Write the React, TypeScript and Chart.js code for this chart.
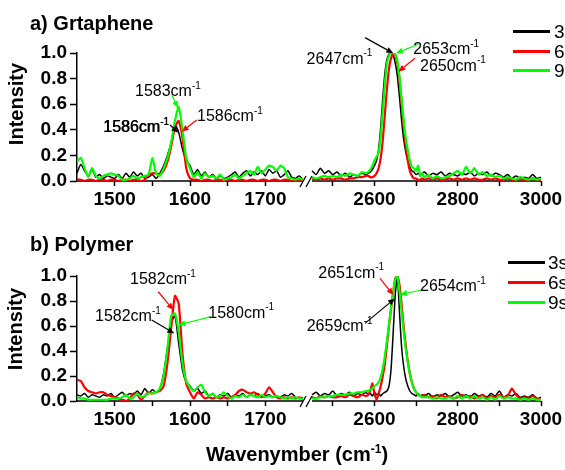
import React, { useEffect, useRef } from "react";
import { Chart, LinearScale, registerables } from "chart.js";

Chart.register(...registerables);

const FONT = '"Liberation Sans", Arial, sans-serif';
const BLACK = "#000000";
const RED = "#ff0000";
const GREEN = "#00ff00";

// ---- x grid (cm^-1) ----
const LEFT_X = [
  1450, 1455, 1460, 1465, 1470, 1475, 1480, 1485, 1490, 1495,
  1500, 1505, 1510, 1515, 1520, 1525, 1530, 1535, 1540, 1545,
  1550, 1555, 1560, 1565, 1570, 1575, 1580, 1585, 1590, 1595,
  1600, 1605, 1610, 1615, 1620, 1625, 1630, 1635, 1640, 1645,
  1650, 1655, 1660, 1665, 1670, 1675, 1680, 1685, 1690, 1695,
  1700, 1705, 1710, 1715, 1720, 1725, 1730, 1735, 1740, 1745,
  1750,
];
const RIGHT_X = [
  2450, 2460, 2470, 2480, 2490, 2500, 2510, 2520, 2530, 2540, 2550, 2560, 2570, 2580,
  2585, 2590, 2595, 2600, 2605, 2610, 2615, 2620, 2625, 2630, 2635, 2640, 2645, 2650,
  2655, 2660, 2665, 2670, 2675, 2680, 2685, 2690, 2695, 2700, 2705, 2710, 2715,
  2720, 2730, 2740, 2750, 2760, 2770, 2780, 2790, 2800, 2810, 2820, 2830, 2840, 2850,
  2860, 2870, 2880, 2890, 2900, 2910, 2920, 2930, 2940, 2950, 2960, 2970, 2980, 2990, 3000,
];

// ---- a) Graphene ----
const A_BLACK_L = [
  0.06, 0.13, 0.08, 0.04, 0.09, 0.03, 0.05, 0.02, 0.04, 0.03,
  0.02, 0.05, 0.02, 0.06, 0.03, 0.07, 0.04, 0.06, 0.02, 0.03,
  0.05, 0.02, 0.06, 0.12, 0.20, 0.30, 0.44, 0.38, 0.25, 0.16,
  0.12, 0.05, 0.09, 0.04, 0.07, 0.03, 0.05, 0.02, 0.04, 0.02,
  0.03, 0.05, 0.07, 0.03, 0.06, 0.08, 0.04, 0.07, 0.05, 0.08,
  0.04, 0.09, 0.06, 0.08, 0.03, 0.05, 0.08, 0.03, 0.02, 0.04,
  0.01,
];
const A_RED_L = [
  0.01, 0.01, 0.0, 0.01, 0.01, 0.0, 0.01, 0.01, 0.0, 0.01,
  0.01, 0.0, 0.01, 0.01, 0.0, 0.01, 0.01, 0.0, 0.01, 0.05,
  0.06, 0.06, 0.05, 0.08, 0.15, 0.27, 0.42, 0.47, 0.34, 0.10,
  0.02, 0.01, 0.01, 0.0, 0.01, 0.01, 0.0, 0.01, 0.01, 0.0,
  0.01, 0.01, 0.0, 0.01, 0.01, 0.0, 0.01, 0.01, 0.0, 0.01,
  0.01, 0.0, 0.01, 0.01, 0.0, 0.01, 0.01, 0.0, 0.01, 0.01,
  0.0,
];
const A_GREEN_L = [
  0.15, 0.18, 0.10, 0.03, 0.10, 0.04, 0.02, 0.04, 0.05, 0.06,
  0.05, 0.04, 0.01, 0.01, 0.02, 0.04, 0.02, 0.03, 0.04, 0.05,
  0.18, 0.06, 0.04, 0.10, 0.18, 0.30, 0.47, 0.58, 0.40, 0.18,
  0.10, 0.03, 0.07, 0.02, 0.06, 0.03, 0.04, 0.02, 0.05, 0.01,
  0.02, 0.03, 0.05, 0.02, 0.04, 0.06, 0.08, 0.05, 0.11, 0.06,
  0.09, 0.12, 0.11, 0.08, 0.12, 0.10, 0.03, 0.02, 0.01, 0.02,
  0.01,
];
const A_BLACK_R = [
  0.08, 0.05, 0.10, 0.06, 0.08, 0.05, 0.07, 0.04, 0.06, 0.03, 0.05, 0.04, 0.06, 0.05,
  0.06, 0.07, 0.09, 0.12, 0.16, 0.25, 0.42, 0.65, 0.84, 0.95, 0.99, 1.0, 0.98, 0.92,
  0.82, 0.66, 0.48, 0.33, 0.23, 0.16, 0.11, 0.08, 0.07, 0.05, 0.06, 0.04, 0.06,
  0.07, 0.04, 0.06, 0.05, 0.07, 0.04, 0.06, 0.05, 0.04, 0.06, 0.05, 0.07, 0.04, 0.06,
  0.05, 0.07, 0.04, 0.06, 0.05, 0.03, 0.05, 0.02, 0.04, 0.02, 0.03, 0.02, 0.05, 0.02, 0.03,
];
const A_RED_R = [
  0.02, 0.01, 0.02, 0.01, 0.02, 0.01, 0.02, 0.02, 0.01, 0.02, 0.02, 0.03, 0.03, 0.04,
  0.04, 0.03, 0.03, 0.04, 0.06, 0.10, 0.18, 0.32, 0.52, 0.72, 0.88, 0.96, 0.99, 0.98,
  0.92, 0.80, 0.62, 0.44, 0.28, 0.16, 0.08, 0.04, 0.02, 0.02, 0.01, 0.01, 0.02,
  0.01, 0.02, 0.01, 0.02, 0.01, 0.01, 0.02, 0.01, 0.02, 0.01, 0.02, 0.01, 0.02, 0.01,
  0.01, 0.02, 0.01, 0.02, 0.01, 0.01, 0.02, 0.01, 0.01, 0.02, 0.01, 0.01, 0.02, 0.01, 0.01,
];
const A_GREEN_R = [
  0.03, 0.02, 0.03, 0.04, 0.03, 0.04, 0.03, 0.05, 0.04, 0.06, 0.05, 0.04, 0.07, 0.06,
  0.07, 0.09, 0.12, 0.16, 0.19, 0.22, 0.35, 0.55, 0.76, 0.92, 0.98, 1.0, 1.0, 0.99,
  0.94, 0.82, 0.65, 0.48, 0.34, 0.24, 0.16, 0.11, 0.10, 0.08, 0.12, 0.04, 0.06,
  0.03, 0.05, 0.02, 0.04, 0.02, 0.03, 0.04, 0.06, 0.08, 0.05, 0.11, 0.06, 0.10, 0.05,
  0.07, 0.04, 0.05, 0.03, 0.04, 0.02, 0.03, 0.02, 0.01, 0.03, 0.02, 0.01, 0.02, 0.01, 0.02,
];

// ---- b) Polymer ----
const B_BLACK_L = [
  0.05, 0.04, 0.06, 0.03, 0.05, 0.04, 0.03, 0.05, 0.04, 0.06,
  0.03, 0.05, 0.07, 0.04, 0.06, 0.05, 0.08, 0.05, 0.10, 0.06,
  0.09, 0.07, 0.10, 0.22, 0.42, 0.62, 0.68, 0.46, 0.25, 0.15,
  0.12, 0.08, 0.10, 0.06, 0.08, 0.04, 0.06, 0.03, 0.05, 0.04,
  0.06, 0.03, 0.05, 0.04, 0.06, 0.03, 0.05, 0.04, 0.06, 0.03,
  0.04, 0.05, 0.03, 0.04, 0.03, 0.05, 0.04, 0.06, 0.03, 0.02,
  0.03,
];
const B_RED_L = [
  0.17, 0.16, 0.11, 0.08, 0.07, 0.06, 0.07, 0.07, 0.05, 0.04,
  0.03, 0.02, 0.01, 0.0, 0.02, 0.06, 0.05, 0.01, 0.04, 0.07,
  0.06, 0.07, 0.08, 0.12, 0.30, 0.58, 0.84, 0.78, 0.38, 0.14,
  0.07, 0.02, 0.07, 0.05, 0.02, 0.03, 0.02, 0.03, 0.02, 0.03,
  0.02, 0.03, 0.05, 0.08, 0.09, 0.07, 0.06, 0.07, 0.05, 0.03,
  0.06, 0.11, 0.07, 0.03, 0.02, 0.03, 0.02, 0.03, 0.02, 0.03,
  0.02,
];
const B_GREEN_L = [
  0.03, 0.02, 0.02, 0.01, 0.01, 0.01, 0.01, 0.01, 0.01, 0.02,
  0.02, 0.02, 0.03, 0.05, 0.02, 0.03, 0.06, 0.03, 0.04, 0.06,
  0.06, 0.07, 0.10, 0.20, 0.42, 0.68, 0.70, 0.55, 0.30, 0.16,
  0.11, 0.08, 0.11, 0.13, 0.07, 0.04, 0.06, 0.03, 0.04, 0.07,
  0.04, 0.02, 0.04, 0.03, 0.05, 0.03, 0.05, 0.04, 0.03, 0.05,
  0.03, 0.04, 0.03, 0.04, 0.03, 0.02, 0.03, 0.02, 0.03, 0.02,
  0.02,
];
const B_BLACK_R = [
  0.05, 0.07, 0.04, 0.06, 0.05, 0.08, 0.04, 0.06, 0.05, 0.07, 0.04, 0.06, 0.05, 0.07,
  0.05, 0.06, 0.04, 0.07, 0.05, 0.06, 0.04, 0.06, 0.07, 0.08, 0.12, 0.26, 0.55, 0.85,
  1.0, 0.72, 0.44, 0.28, 0.18, 0.12, 0.08, 0.06, 0.05, 0.04, 0.06, 0.04, 0.05,
  0.04, 0.06, 0.03, 0.05, 0.04, 0.06, 0.03, 0.05, 0.07, 0.04, 0.05, 0.03, 0.06, 0.04,
  0.05, 0.03, 0.06, 0.04, 0.08, 0.03, 0.05, 0.04, 0.06, 0.03, 0.04, 0.03, 0.05, 0.02, 0.03,
];
const B_RED_R = [
  0.03, 0.02, 0.04, 0.03, 0.04, 0.03, 0.03, 0.04, 0.03, 0.05, 0.04, 0.03, 0.05, 0.04,
  0.05, 0.08, 0.14, 0.06, 0.01, 0.06, 0.12, 0.20, 0.30, 0.45, 0.60, 0.74, 0.87, 0.98,
  1.0, 0.93, 0.78, 0.60, 0.45, 0.32, 0.22, 0.15, 0.10, 0.07, 0.05, 0.04, 0.04,
  0.05, 0.03, 0.04, 0.02, 0.05, 0.03, 0.04, 0.02, 0.03, 0.05, 0.03, 0.04, 0.02, 0.03,
  0.05, 0.02, 0.04, 0.03, 0.05, 0.03, 0.04, 0.10, 0.05, 0.02, 0.03, 0.02, 0.04, 0.02, 0.01,
];
const B_GREEN_R = [
  0.02, 0.02, 0.03, 0.03, 0.04, 0.04, 0.05, 0.05, 0.05, 0.06, 0.06, 0.07, 0.07, 0.08,
  0.08, 0.09, 0.10, 0.12, 0.13, 0.15, 0.19, 0.26, 0.36, 0.48, 0.62, 0.75, 0.87, 0.97,
  1.0, 0.88, 0.72, 0.56, 0.42, 0.31, 0.22, 0.15, 0.10, 0.07, 0.05, 0.04, 0.03,
  0.03, 0.03, 0.02, 0.03, 0.02, 0.02, 0.03, 0.02, 0.04, 0.02, 0.04, 0.02, 0.04, 0.02,
  0.03, 0.01, 0.03, 0.01, 0.04, 0.02, 0.03, 0.02, 0.02, 0.01, 0.02, 0.01, 0.02, 0.01, 0.01,
];

const SERIES_LABELS = ["3s", "6s", "9s"];
const X_TICKS = [1500, 1550, 1600, 1650, 1700, 2500, 2600, 2700, 2800, 2900, 3000];
const X_LABELS = [1500, 1600, 1700, 2600, 2800, 3000];
const Y_TICKS = [0, 0.2, 0.4, 0.6, 0.8, 1.0];

// peak annotations: text anchor (tx, ty) and arrow tail (x1,y1) -> tip (x2,y2), all in data units
const A_NOTES = [
  { label: "1583", color: GREEN, tx: 1527, ty: 0.695, x1: 1576, y1: 0.672, x2: 1584, y2: 0.57 },
  { label: "1586", color: BLACK, tx: 1484.5, ty: 0.414, x1: 1573.5, y1: 0.4375, x2: 1584.5, y2: 0.377, heavy: true },
  { label: "1586", color: RED, tx: 1609.3, ty: 0.5, x1: 1608.9, y1: 0.477, x2: 1588.9, y2: 0.385 },
  { label: "2647", color: BLACK, tx: 2437, ty: 0.951, x1: 2577.3, y1: 1.12, x2: 2645.3, y2: 0.998 },
  { label: "2653", color: GREEN, tx: 2693.3, ty: 1.023, x1: 2705.3, y1: 1.068, x2: 2651.7, y2: 0.998 },
  { label: "2650", color: RED, tx: 2709.4, ty: 0.893, x1: 2697.4, y1: 0.959, x2: 2657.4, y2: 0.854 },
];
const B_NOTES = [
  { label: "1582", color: RED, tx: 1520.4, ty: 0.968, x1: 1557.9, y1: 0.874, x2: 1577.9, y2: 0.728 },
  { label: "1582", color: BLACK, tx: 1473.9, ty: 0.674, x1: 1549.1, y1: 0.648, x2: 1579.2, y2: 0.541 },
  { label: "1580", color: GREEN, tx: 1624.3, ty: 0.702, x1: 1627.9, y1: 0.675, x2: 1584.5, y2: 0.608 },
  { label: "2651", color: RED, tx: 2465.1, ty: 1.022, x1: 2613.3, y1: 0.981, x2: 2645.3, y2: 0.848 },
  { label: "2654", color: GREEN, tx: 2709.4, ty: 0.914, x1: 2713.4, y1: 0.888, x2: 2661.4, y2: 0.853 },
  { label: "2659", color: BLACK, tx: 2437.3, ty: 0.594, x1: 2577.3, y1: 0.621, x2: 2649.3, y2: 0.821 },
];

// ---- broken x axis: two linear segments ----
const SEG_L = [1450, 1750];
const SEG_R = [2450, 3000];
const FRAC_L_END = 226 / 464;
const FRAC_R_START = 235 / 464;

class BrokenScale extends LinearScale {
  static id = "broken";
  getPixelForValue(value: number) {
    if (value === null || value === undefined || isNaN(value)) return NaN;
    let f: number;
    if (value < (SEG_L[1] + SEG_R[0]) / 2) {
      f = ((value - SEG_L[0]) / (SEG_L[1] - SEG_L[0])) * FRAC_L_END;
    } else {
      f = FRAC_R_START + ((value - SEG_R[0]) / (SEG_R[1] - SEG_R[0])) * (1 - FRAC_R_START);
    }
    return (this as any).left + f * (this as any).width;
  }
  getValueForPixel(pixel: number) {
    const f = (pixel - (this as any).left) / (this as any).width;
    if (f < (FRAC_L_END + FRAC_R_START) / 2) {
      return SEG_L[0] + (f / FRAC_L_END) * (SEG_L[1] - SEG_L[0]);
    }
    return SEG_R[0] + ((f - FRAC_R_START) / (1 - FRAC_R_START)) * (SEG_R[1] - SEG_R[0]);
  }
}
Chart.register(BrokenScale as any);

function points(left: number[], right: number[]) {
  const out: any[] = LEFT_X.map((x, i) => ({ x, y: left[i] }));
  out.push({ x: 2100, y: null });
  RIGHT_X.forEach((x, i) => out.push({ x, y: right[i] }));
  return out;
}

function drawArrow(ctx: CanvasRenderingContext2D, x1: number, y1: number, x2: number, y2: number, color: string) {
  const ang = Math.atan2(y2 - y1, x2 - x1);
  const head = 7;
  const hw = 3;
  const bx = x2 - head * Math.cos(ang);
  const by = y2 - head * Math.sin(ang);
  ctx.strokeStyle = color;
  ctx.fillStyle = color;
  ctx.lineWidth = 1.2;
  ctx.beginPath();
  ctx.moveTo(x1, y1);
  ctx.lineTo(bx, by);
  ctx.stroke();
  ctx.beginPath();
  ctx.moveTo(x2, y2);
  ctx.lineTo(bx + hw * Math.sin(ang), by - hw * Math.cos(ang));
  ctx.lineTo(bx - hw * Math.sin(ang), by + hw * Math.cos(ang));
  ctx.closePath();
  ctx.fill();
}

function drawNoteText(ctx: CanvasRenderingContext2D, x: number, y: number, num: string, heavy?: boolean) {
  ctx.fillStyle = "#000";
  ctx.textAlign = "left";
  ctx.textBaseline = "middle";
  ctx.font = `16px ${FONT}`;
  const main = num + "cm";
  ctx.fillText(main, x, y);
  if (heavy) ctx.fillText(main, x + 0.6, y);
  const w = ctx.measureText(main).width;
  ctx.font = `10px ${FONT}`;
  ctx.fillText("-1", x + w, y - 6);
  if (heavy) ctx.fillText("-1", x + w + 0.5, y - 6);
}

const axisPlugin = {
  id: "brokenAxisLine",
  beforeDatasetsDraw(chart: any) {
    const { ctx, chartArea } = chart;
    const x = chart.scales.x;
    const b = chartArea.bottom;
    const l0 = x.getPixelForValue(SEG_L[0]);
    const l1 = x.getPixelForValue(SEG_L[1]);
    const r0 = x.getPixelForValue(SEG_R[0]);
    const r1 = x.getPixelForValue(SEG_R[1]);
    ctx.save();
    ctx.strokeStyle = "#000";
    ctx.lineWidth = 1.5;
    ctx.beginPath();
    ctx.moveTo(l0, b);
    ctx.lineTo(l1, b);
    ctx.moveTo(r0, b);
    ctx.lineTo(r1, b);
    ctx.stroke();
    ctx.lineWidth = 1.3;
    ctx.beginPath();
    ctx.moveTo(l1 - 3, b + 6);
    ctx.lineTo(l1 + 3, b - 5);
    ctx.moveTo(l1 + 3, b + 6);
    ctx.lineTo(l1 + 9, b - 5);
    ctx.stroke();
    ctx.restore();
  },
};

function makeNotesPlugin(notes: any[]) {
  return {
    id: "peakNotes",
    afterDatasetsDraw(chart: any) {
      const { ctx } = chart;
      const xs = chart.scales.x;
      const ys = chart.scales.y;
      ctx.save();
      notes.forEach((n) => {
        drawArrow(ctx, xs.getPixelForValue(n.x1), ys.getPixelForValue(n.y1), xs.getPixelForValue(n.x2), ys.getPixelForValue(n.y2), n.color);
        drawNoteText(ctx, xs.getPixelForValue(n.tx), ys.getPixelForValue(n.ty), n.label, n.heavy);
      });
      ctx.restore();
    },
  };
}

function buildChart(canvas: HTMLCanvasElement, series: number[][][], notes: any[], padding: any) {
  const colors = [BLACK, RED, GREEN];
  const widths = [1.5, 2.2, 2.2];
  const orders = [2, 1, 0];
  const tickFont = { family: FONT, size: 19, weight: "bold" as const };
  return new Chart(canvas, {
    type: "line",
    data: {
      datasets: series.map((s, i) => ({
        label: SERIES_LABELS[i],
        data: points(s[0], s[1]),
        borderColor: colors[i],
        backgroundColor: colors[i],
        borderWidth: widths[i],
        pointRadius: 0,
        tension: 0.2,
        spanGaps: false,
        order: orders[i],
      })),
    },
    options: {
      animation: false,
      responsive: false,
      events: [],
      layout: { padding },
      plugins: {
        legend: { display: false },
        tooltip: { enabled: false },
        title: { display: false },
      },
      scales: {
        x: {
          type: "broken" as any,
          min: 1450,
          max: 3000,
          afterBuildTicks: (s: any) => {
            s.ticks = X_TICKS.map((v) => ({ value: v }));
          },
          afterFit: (s: any) => {
            s.height = 40;
          },
          ticks: {
            autoSkip: false,
            maxRotation: 0,
            minRotation: 0,
            padding: 2,
            color: "#000",
            font: tickFont,
            callback: (v: any) => (X_LABELS.includes(Number(v)) ? String(v) : ""),
          },
          grid: { drawOnChartArea: false, tickLength: 5, tickWidth: 1.5, tickColor: "#000" },
          border: { display: false },
        } as any,
        y: {
          min: 0,
          max: 1,
          afterBuildTicks: (s: any) => {
            s.ticks = Y_TICKS.map((v) => ({ value: v }));
          },
          afterFit: (s: any) => {
            s.width = 77;
          },
          ticks: {
            autoSkip: false,
            padding: 3,
            color: "#000",
            font: tickFont,
            callback: (v: any) => Number(v).toFixed(1),
          },
          grid: { drawOnChartArea: false, tickLength: 7, tickWidth: 1.5, tickColor: "#000" },
          border: { display: true, color: "#000", width: 1.5 },
        } as any,
      },
    },
    plugins: [axisPlugin, makeNotesPlugin(notes)],
  });
}

function LegendBlock({ left, ys, textLeft }: { left: number; ys: number[]; textLeft: number }) {
  const colors = [BLACK, RED, GREEN];
  return (
    <>
      {SERIES_LABELS.map((lab, i) => (
        <React.Fragment key={lab}>
          <div
            style={{
              position: "absolute",
              left,
              top: ys[i] - 1.5,
              width: 37,
              height: 3,
              background: colors[i],
            }}
          />
          <div
            style={{
              position: "absolute",
              left: textLeft,
              top: ys[i] - 9.3,
              font: `19px ${FONT}`,
              lineHeight: "19px",
              whiteSpace: "nowrap",
              color: "#000",
            }}
          >
            {lab}
          </div>
        </React.Fragment>
      ))}
    </>
  );
}

export default function App() {
  const refA = useRef<HTMLCanvasElement>(null);
  const refB = useRef<HTMLCanvasElement>(null);

  useEffect(() => {
    const a = buildChart(
      refA.current!,
      [
        [A_BLACK_L, A_BLACK_R],
        [A_RED_L, A_RED_R],
        [A_GREEN_L, A_GREEN_R],
      ],
      A_NOTES,
      { top: 53, right: 24, bottom: 14, left: 0 }
    );
    const b = buildChart(
      refB.current!,
      [
        [B_BLACK_L, B_BLACK_R],
        [B_RED_L, B_RED_R],
        [B_GREEN_L, B_GREEN_R],
      ],
      B_NOTES,
      { top: 41, right: 24, bottom: 29, left: 0 }
    );
    return () => {
      a.destroy();
      b.destroy();
    };
  }, []);

  const titleStyle: React.CSSProperties = {
    position: "absolute",
    left: 30,
    font: `bold 20px ${FONT}`,
    lineHeight: "20px",
    whiteSpace: "nowrap",
    color: "#000",
  };
  const yTitle = (cx: number, cy: number): React.CSSProperties => ({
    position: "absolute",
    left: cx,
    top: cy,
    transform: "translate(-50%, -50%) rotate(-90deg)",
    font: `bold 20px ${FONT}`,
    lineHeight: "20px",
    whiteSpace: "nowrap",
    color: "#000",
  });

  return (
    <div
      style={{
        position: "fixed",
        left: 0,
        top: 0,
        width: 565,
        height: 470,
        overflow: "hidden",
        background: "#fff",
      }}
    >
      <canvas ref={refA} width={565} height={235} style={{ position: "absolute", left: 0, top: 0 }} />
      <canvas ref={refB} width={565} height={235} style={{ position: "absolute", left: 0, top: 235 }} />
      <div style={{ ...titleStyle, top: 13 }}>a) Grtaphene</div>
      <div style={{ ...titleStyle, top: 234 }}>b) Polymer</div>
      <div style={yTitle(15.6, 104)}>Intensity</div>
      <div style={yTitle(14.8, 329)}>Intensity</div>
      <div
        style={{
          position: "absolute",
          left: 297,
          top: 444,
          transform: "translateX(-50%)",
          font: `bold 20px ${FONT}`,
          lineHeight: "20px",
          whiteSpace: "nowrap",
          color: "#000",
        }}
      >
        Wavenymber (cm
        <span style={{ fontSize: 12, position: "relative", top: -8 }}>-1</span>)
      </div>
      <LegendBlock left={513} ys={[31, 51, 70]} textLeft={554} />
      <LegendBlock left={508} ys={[262, 282, 302]} textLeft={548} />
    </div>
  );
}
